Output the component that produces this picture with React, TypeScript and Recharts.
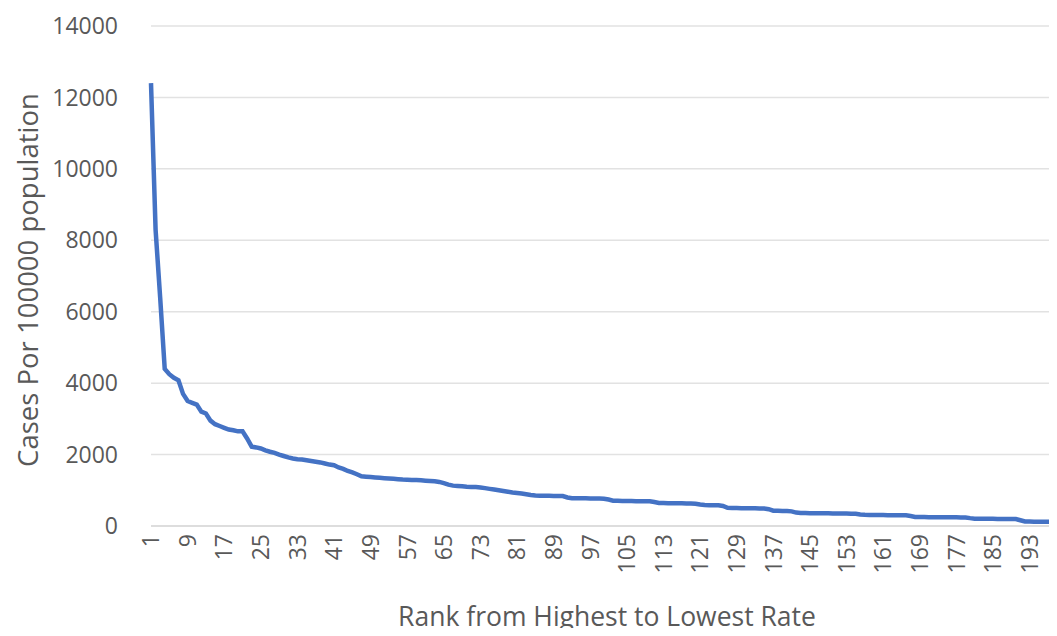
import React from 'react';
import { LineChart, Line, XAxis, YAxis, CartesianGrid } from 'recharts';

// cases per 100000, ranked highest to lowest (rank 1..199)
const rates: number[] = [
  12400, 8300, 6400, 4400, 4250, 4150, 4080, 3700, 3500, 3450,
  3400, 3200, 3150, 2950, 2850, 2800, 2750, 2700, 2680, 2650,
  2650, 2450, 2220, 2200, 2170, 2120, 2080, 2050, 2000, 1960,
  1920, 1890, 1870, 1860, 1840, 1820, 1800, 1780, 1750, 1720,
  1700, 1640, 1600, 1540, 1500, 1450, 1390, 1380, 1370, 1360,
  1350, 1340, 1330, 1320, 1310, 1300, 1295, 1290, 1285, 1280,
  1270, 1260, 1250, 1235, 1200, 1160, 1130, 1120, 1110, 1100,
  1095, 1090, 1080, 1060, 1040, 1020, 1000, 980, 960, 940,
  925, 910, 890, 870, 855, 850, 848, 845, 843, 840,
  838, 800, 780, 778, 776, 774, 772, 770, 768, 765,
  740, 710, 705, 702, 700, 698, 696, 694, 692, 690,
  670, 645, 642, 640, 638, 636, 634, 632, 630, 625,
  600, 585, 583, 581, 580, 560, 510, 505, 502, 500,
  498, 496, 494, 492, 490, 470, 430, 425, 422, 420,
  410, 375, 365, 362, 360, 358, 356, 355, 354, 352,
  350, 349, 348, 346, 340, 320, 312, 310, 308, 306,
  305, 304, 303, 302, 300, 298, 280, 255, 252, 250,
  248, 247, 246, 245, 244, 243, 242, 241, 240, 220,
  205, 203, 202, 201, 200, 199, 198, 197, 196, 195,
  160, 125, 123, 122, 121, 120, 119, 118, 117,
];

const ranks: number[] = rates.map((_, i) => i + 1);
const yTicks: number[] = [0, 2000, 4000, 6000, 8000, 10000, 12000, 14000];

const data = ranks.map((rank, i) => ({ rank, rate: rates[i] }));

const FONT = '"Open Sans", sans-serif';
const TEXT = '#595959';

const XTick = ({ x, y, payload }: any) => (
  <text
    x={x}
    y={y}
    transform={`rotate(-90 ${x} ${y})`}
    textAnchor="end"
    dy="0.36em"
    fill={TEXT}
    fontSize={23}
    fontFamily={FONT}
  >
    {payload.value}
  </text>
);

const XTitle = () => (
  <text x={607} y={626} textAnchor="middle" fill={TEXT} fontSize={26.5} fontFamily={FONT}>
    Rank from Highest to Lowest Rate
  </text>
);

const YTitle = () => (
  <text
    x={27}
    y={280}
    transform="rotate(-90 27 280)"
    textAnchor="middle"
    dominantBaseline="central"
    fill={TEXT}
    fontSize={27.5}
    fontFamily={FONT}
  >
    Cases Por 100000 population
  </text>
);

export default function App() {
  return (
    <div style={{ margin: -8, width: 1057, height: 636, overflow: 'hidden', background: '#fff' }}>
      <LineChart width={1057} height={636} data={data} margin={{ top: 26, right: 0, left: 0, bottom: 0 }}>
        <CartesianGrid vertical={false} stroke="#e2e2e2" strokeWidth={1.5} />
        <XAxis
          dataKey="rank"
          interval={7}
          height={110}
          tickLine={false}
          axisLine={{ stroke: '#d9d9d9', strokeWidth: 1.5 }}
          tick={<XTick />}
          label={<XTitle />}
        />
        <YAxis
          width={151}
          domain={[0, 14000]}
          ticks={yTicks}
          tickLine={false}
          axisLine={false}
          tickSize={0}
          tickMargin={33}
          tick={{ fill: TEXT, fontSize: 23, fontFamily: FONT }}
          label={<YTitle />}
        />
        <Line
          type="linear"
          dataKey="rate"
          stroke="#4472C4"
          strokeWidth={4.5}
          dot={false}
          isAnimationActive={false}
        />
      </LineChart>
    </div>
  );
}
